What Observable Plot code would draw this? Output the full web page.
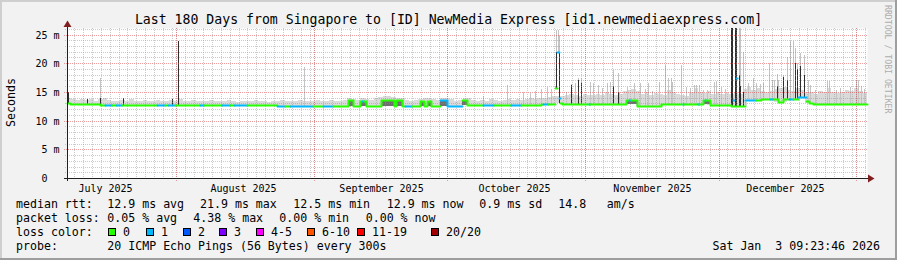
<!DOCTYPE html>
<html><head><meta charset="utf-8">
<script src="https://cdn.jsdelivr.net/npm/d3@7"></script>
<script src="https://cdn.jsdelivr.net/npm/@observablehq/plot@0.6"></script>
<style>
html,body{margin:0;padding:0;background:#f2f2f2;}
svg{display:block}
</style></head><body><div id="chart"></div>
<script>
// ---------------- DATA ----------------
const startTime = "2025-07-07T09:23:46Z";
const endTime   = "2026-01-03T09:23:46Z";
const titleText = "Last 180 Days from Singapore to [ID] NewMedia Express [id1.newmediaexpress.com]";

// median rtt (ms), piecewise: start (days since startTime), value, lost pings (of 20)
const segStart  = [0,0.68,7.43,8.56,10.2,11.0,12.39,20.27,22.0,22.8,24.33,29.96,30.86,34.92,36.6,37.5,40.55,47.31,49.0,50.2,55.42,57.67,59.92,
  63.30,64.43,66.01,66.46,66.91,67.36,70.74,73.67,74.12,75.47,76.14,77.72,79.52,80.42,81.10,82.00,84.03,85.60,
  88.98,90.11,93.71,95.97,99.80,102.05,106.56,107.01,108.13,109.71,110.16,110.61,110.95,111.29,117.37,117.60,
  125.70,126.38,126.83,128.18,133.59,138.55,138.88,141.92,142.15,143.05,143.50,143.72,144.63,149.36,149.81,
  150.03,150.48,150.71,152.51,154.99,156.12,158.10,158.78,159.95,161.07,162.40,163.30,164.45,166.25,166.93,167.83];
const segMedian = [13.1,12.9,12.75,12.7,12.7,12.7,12.75,12.7,12.7,12.7,12.75,12.7,12.7,12.65,12.65,12.65,12.7,12.6,12.6,12.6,12.6,12.55,12.6,
  13.6,12.6,13.5,13.5,13.5,12.6,13.6,12.6,13.6,12.6,12.6,12.6,13.5,12.6,13.5,12.6,13.6,12.55,
  13.6,12.75,12.75,12.75,12.75,12.75,12.9,12.9,12.9,15.7,21.9,13.9,13.0,12.85,12.85,12.85,
  13.6,13.6,13.6,12.55,12.85,12.85,12.85,12.85,12.85,13.6,13.6,13.6,12.75,12.55,13.6,
  12.55,17.4,12.55,13.65,13.65,13.75,13.75,13.75,13.3,13.8,13.8,13.8,14.05,13.5,13.1,12.9];
const segLoss   = [0,0,0,1,0,1,0,1,0,1,0,1,0,1,0,1,0,1,0,1,0,1,0,
  0,0,0,1,0,0,0,0,0,0,1,0,0,0,0,0,1,1,
  0,0,1,0,1,0,0,1,0,0,1,1,0,0,1,0,
  0,1,0,0,0,1,0,1,0,0,1,0,0,0,1,
  0,1,0,1,0,0,1,0,0,0,1,0,1,0,0,0];

// upper edge of the light smoke, one value per day (ms)
const smokeTop = [
  13.9,13.7,13.6,13.8,13.6,13.7,13.5,13.8,14.0,13.6,
  13.5,13.4,13.6,13.5,13.7,13.5,13.4,13.6,13.5,13.5,
  13.6,13.4,13.5,13.6,13.5,13.7,13.5,13.4,13.6,13.5,
  13.4,13.5,13.6,13.5,13.4,13.5,13.6,13.4,13.3,13.5,
  13.4,13.5,13.6,13.4,13.5,13.3,13.4,13.5,13.6,13.4,
  13.5,13.4,13.6,13.5,13.4,13.5,13.6,13.4,13.5,13.6,
  13.5,13.4,13.6,13.9,13.7,13.6,14.0,13.8,13.6,13.9,
  14.1,14.2,14.2,14.1,13.9,14.0,13.6,13.5,13.6,13.7,
  13.9,13.9,13.8,13.6,14.0,14.0,13.7,13.5,13.6,14.0,
  13.9,13.6,13.5,13.6,13.5,13.7,13.6,13.5,13.6,13.7,
  13.6,13.8,13.6,13.7,13.9,13.8,14.0,13.9,14.1,14.2,
  14.3,14.2,14.4,14.6,14.5,14.3,14.6,14.5,14.4,14.7,
  14.4,14.9,14.7,14.5,14.6,15.2,15.3,15.5,15.1,14.6,
  14.9,14.5,14.8,14.6,14.4,15.3,15.0,14.7,14.5,14.3,
  15.0,15.7,14.9,14.8,15.1,14.6,14.9,14.7,14.8,14.7,
  14.9,14.7,15.5,15.9,15.3,15.6,15.1,15.0,15.2,15.5,
  15.7,15.8,15.4,15.1,15.6,15.3,15.0,14.9,14.7,15.1,
  14.9,15.6,15.0,14.8,15.0,15.3,15.1,15.7,15.2,14.8];

// single-sample smoke spikes: day, highest ping (ms), top of dense part (ms, null = none)
const spikeDay  = [0.23,4.5,7.43,12.6,23.65,24.95,53.4,93.5,99.1,102.6,104.2,105.3,106.7,108.1,109.0,109.9,110.1,110.4,110.6,110.8,
  112.3,113.3,114.4,114.9,115.6,117.7,118.4,119.4,120.4,121.6,122.2,122.8,123.9,124.2,126.0,127.6,128.9,130.0,130.7,131.6,133.1,134.5,135.2,135.8,136.1,138.1,
  139.3,140.2,141.1,141.5,142.2,143.1,144.0,145.5,146.0,147.2,148.1,
  149.5,149.7,150.4,150.6,151.2,151.5,152.0,153.2,154.3,155.0,155.9,156.6,157.9,158.6,159.0,159.7,160.0,161.1,162.0,
  162.7,163.4,163.8,164.3,164.9,165.8,166.7,167.2,168.3,171.0,171.5,173.0,173.9,176.2,177.5,178.0,178.6,179.3];
const spikeMax  = [15.0,13.8,17.4,13.9,13.8,23.9,19.4,14.2,16.2,15.0,14.8,15.2,15.5,15.9,15.5,16.0,25.8,25.8,25.0,16.0,
  15.0,16.4,16.6,17.4,17.4,16.7,16.5,16.2,15.6,16.5,16.8,18.8,18.3,15.0,15.9,16.5,16.5,15.5,16.5,15.2,16.8,19.7,17.4,17.4,16.8,19.7,
  15.8,15.6,16.2,16.2,16.2,15.3,15.4,16.8,16.9,15.8,15.5,
  26.2,26.2,26.2,26.2,26.2,26.2,22.0,16.5,17.4,16.5,16.3,16.5,20.0,17.1,17.1,18.2,17.1,18.0,21.1,
  23.9,23.9,22.6,20.0,21.8,21.4,17.1,16.2,15.3,16.9,16.9,15.3,15.6,15.9,17.1,17.1,16.0,15.5];
const spikeDark = [15.0,13.8,14.0,13.9,13.8,23.9,null,null,null,null,null,null,null,null,null,15.7,22.0,22.0,22.0,14.0,
  null,16.2,null,17.0,16.5,null,null,null,null,null,null,16.0,15.0,null,null,null,null,null,null,null,null,null,null,null,null,null,
  null,null,null,null,null,null,null,null,null,null,null,
  26.2,26.2,26.2,26.2,18.0,16.0,15.0,null,null,null,null,null,null,null,null,16.0,null,17.6,17.0,
  null,null,20.0,19.0,19.5,18.0,null,null,null,null,null,null,null,null,null,null,null,null];

// dense smoke under the median plateaus
const humpStart = [63.30,66.01,70.74,74.12,79.52,81.10,84.03,88.98,125.70,143.05];
const humpEnd   = [64.43,67.36,73.67,75.47,80.42,82.00,85.60,90.11,128.18,144.63];
const humpTop   = [13.6,13.5,13.6,13.6,13.5,13.5,13.6,13.6,13.6,13.6];
const humpBase  = [12.6,12.6,12.6,12.6,12.6,12.6,12.55,12.75,12.85,12.85];

const monthStarts = ["2025-07-01","2025-08-01","2025-09-01","2025-10-01","2025-11-01","2025-12-01","2026-01-01"];
const monthLabels = ["July 2025","August 2025","September 2025","October 2025","November 2025","December 2025"];
const yTicks = [0,5,10,15,20,25];

const rttStats   = [12.9, 21.9, 12.5, 12.9];
const statNames  = ["avg","max","min","now"];
const rttSd = 0.9, rttAmps = 14.8;
const lossStats  = [0.05, 4.38, 0.00, 0.00];
const lossNames  = ["0","1","2","3","4-5","6-10","11-19","20/20"];
const lossColors = ["#26ff00","#00b8ff","#0059ff","#7e00ff","#ff00ff","#ff5500","#ff0000","#a00000"];
const probeText  = "20 ICMP Echo Pings (56 Bytes) every 300s";
const stampText  = "Sat Jan  3 09:23:46 2026";

// ---------------- BUILD ----------------
const t0 = new Date(startTime), t1 = new Date(endTime), DAY = 864e5;
const T = d => new Date(+t0 + d * DAY);
const segs = segStart.map((s, i) => ({s, e: i + 1 < segStart.length ? segStart[i + 1] : 180, v: segMedian[i], loss: segLoss[i]}));
const lossIdx = n => n <= 0 ? 0 : n <= 3 ? n : n <= 5 ? 4 : n <= 10 ? 5 : n <= 19 ? 6 : 7;
const baseAt = (a, b) => d3.min(segs.filter(g => g.e > a && g.s < b), g => g.v);

// median line: one path per run of equal loss colour (no joins across colour changes or big jumps)
let run = 0;
const linePts = [];
segs.forEach((g, i) => {
  const p = segs[i - 1];
  if (p && (p.loss !== g.loss || Math.abs(p.v - g.v) > 1.5)) run++;
  const c = lossColors[lossIdx(g.loss)];
  linePts.push({t: T(g.s), v: g.v, run, c}, {t: T(g.e), v: g.v, run, c});
});

const smoke = smokeTop.map((top, i) => ({a: T(i), b: T(i + 1), lo: baseAt(i, i + 1), hi: top}));
const spikes = spikeDay.map((d, i) => ({t: T(d), lo: baseAt(d, d + 0.2), hi: spikeMax[i], dark: spikeDark[i]}));
const humps = humpStart.map((s, i) => ({a: T(s), b: T(humpEnd[i]), lo: humpBase[i], hi: humpTop[i]}));

const monthDates = monthStarts.map(s => new Date(s + "T00:00:00Z"));
const majorX = monthDates.filter(d => d > t0 && d < t1);
const labelDates = monthLabels.map((l, i) => d3.utcDay.offset(monthDates[i], 15));
const labelMap = new Map(labelDates.map((d, i) => [+d, monthLabels[i]]));
const minorX = d3.utcDay.every(2).range(t0, t1);
const minorY = d3.range(1, 27).filter(v => v % 5 !== 0);
const majorY = [5, 10, 15, 20, 25];

const gridMinor = {stroke: "#8f8f8f", strokeOpacity: 0.45, strokeDasharray: "1,1"};
const gridMajor = {stroke: "#de4f4f", strokeOpacity: 0.55, strokeDasharray: "1,1"};

const svg = Plot.plot({
  width: 897, height: 260,
  marginLeft: 67, marginRight: 30, marginTop: 28, marginBottom: 82,
  style: {background: "#f2f2f2", fontFamily: "DejaVu Sans Mono", fontSize: "10px", color: "#000"},
  color: {type: "identity"},
  x: {type: "utc", domain: [t0, t1], round: true, ticks: labelDates, tickFormat: d => labelMap.get(+d), tickSize: 0, tickPadding: 6, label: null},
  y: {domain: [0, 150 / 5.74], round: true, ticks: yTicks, tickFormat: v => v === 0 ? "0\u00a0\u00a0" : v + " m", tickSize: 0, tickPadding: 8, label: null},
  marks: [
    Plot.frame({fill: "#ffffff", stroke: null}),
    Plot.rect(smoke, {x1: "a", x2: "b", y1: "lo", y2: "hi", fill: "#dadada"}),
    Plot.ruleX(spikes, {x: "t", y1: "lo", y2: "hi", stroke: "#c4c4c4"}),
    Plot.ruleX(spikes.filter(d => d.dark != null), {x: "t", y1: "lo", y2: "dark", stroke: "#2e2e2e"}),
    Plot.rect(humps, {x1: "a", x2: "b", y1: "lo", y2: "hi", fill: "#6e6e6e"}),
    Plot.ruleX(minorX, {...gridMinor, insetBottom: -2}),
    Plot.ruleY(minorY, {...gridMinor, insetLeft: -2}),
    Plot.ruleX(majorX, {...gridMajor, insetBottom: -3}),
    Plot.ruleY(majorY, {...gridMajor, insetLeft: -3}),
    Plot.line(linePts, {x: "t", y: "v", z: "run", stroke: "c", strokeWidth: 2})
  ]
});

const s = d3.select(svg);
const F = "DejaVu Sans Mono";
// axes + arrows
s.append("line").attr("x1", 64).attr("x2", 872).attr("y1", 178.5).attr("y2", 178.5).attr("stroke", "#1f1f1f");
s.append("line").attr("x1", 67.5).attr("x2", 67.5).attr("y1", 181).attr("y2", 24).attr("stroke", "#1f1f1f");
s.append("path").attr("d", "M63.5,27L71.5,27L67.5,20.5Z").attr("fill", "#801f1f");
s.append("path").attr("d", "M868,174.5L868,182.5L874.5,178.5Z").attr("fill", "#801f1f");
// borders
s.append("rect").attr("x", 0).attr("y", 0).attr("width", 897).attr("height", 2).attr("fill", "#cfcfcf");
s.append("rect").attr("x", 0).attr("y", 0).attr("width", 2).attr("height", 260).attr("fill", "#cfcfcf");
s.append("rect").attr("x", 0).attr("y", 258).attr("width", 897).attr("height", 2).attr("fill", "#9e9e9e");
s.append("rect").attr("x", 895).attr("y", 0).attr("width", 2).attr("height", 260).attr("fill", "#9e9e9e");

function txt(x, y, str, size, opts = {}) {
  const t = s.append("text").attr("x", x).attr("y", y).attr("font-family", F).attr("font-size", size + "px")
    .attr("fill", opts.fill || "#000").attr("text-anchor", opts.anchor || "start")
    .style("white-space", "pre").text(str);
  if (opts.transform) t.attr("transform", opts.transform);
  return t;
}
// title
txt(448.5, 23.5, titleText, 13.2, {anchor: "middle"});
// y label
txt(0, 0, "Seconds", 11.6, {anchor: "middle", transform: "translate(14.5,102.5) rotate(-90)"});
// watermark
txt(0, 0, "RRDTOOL / TOBI OETIKER", 8.2, {fill: "#adadad", transform: "translate(885,5) rotate(90)"});

// legend
const L = 11.6, rows = [207.5, 221.5, 235.5, 249.5];
txt(16, rows[0], "median rtt:", L);
const rttX = [107.3, 200, 293.3, 386.7];
rttStats.forEach((v, i) => txt(rttX[i], rows[0], v.toFixed(1) + " ms " + statNames[i], L));
txt(479.3, rows[0], rttSd.toFixed(1) + " ms sd", L);
txt(558.3, rows[0], rttAmps.toFixed(1), L);
txt(606.7, rows[0], "am/s", L);

txt(16, rows[1], "packet loss:", L);
const lossX = [107.3, 193.3, 279.3, 365.7];
lossStats.forEach((v, i) => txt(lossX[i], rows[1], v.toFixed(2) + " % " + statNames[i], L));

txt(16, rows[2], "loss color:", L);
const boxX = [108.3, 145.7, 182.7, 219.3, 256, 306.7, 356.7, 430.7];
lossNames.forEach((n, i) => {
  s.append("rect").attr("x", Math.round(boxX[i]) + 0.5).attr("y", 228.5).attr("width", 7).attr("height", 7)
    .attr("fill", lossColors[i]).attr("stroke", "#000").attr("stroke-width", 1);
  txt(Math.round(boxX[i]) + 15, rows[2], n, L);
});

txt(16, rows[3], "probe:", L);
txt(107.3, rows[3], probeText, L);
txt(880, rows[3], stampText, L, {anchor: "end"});

document.getElementById("chart").appendChild(svg);
</script></body></html>
